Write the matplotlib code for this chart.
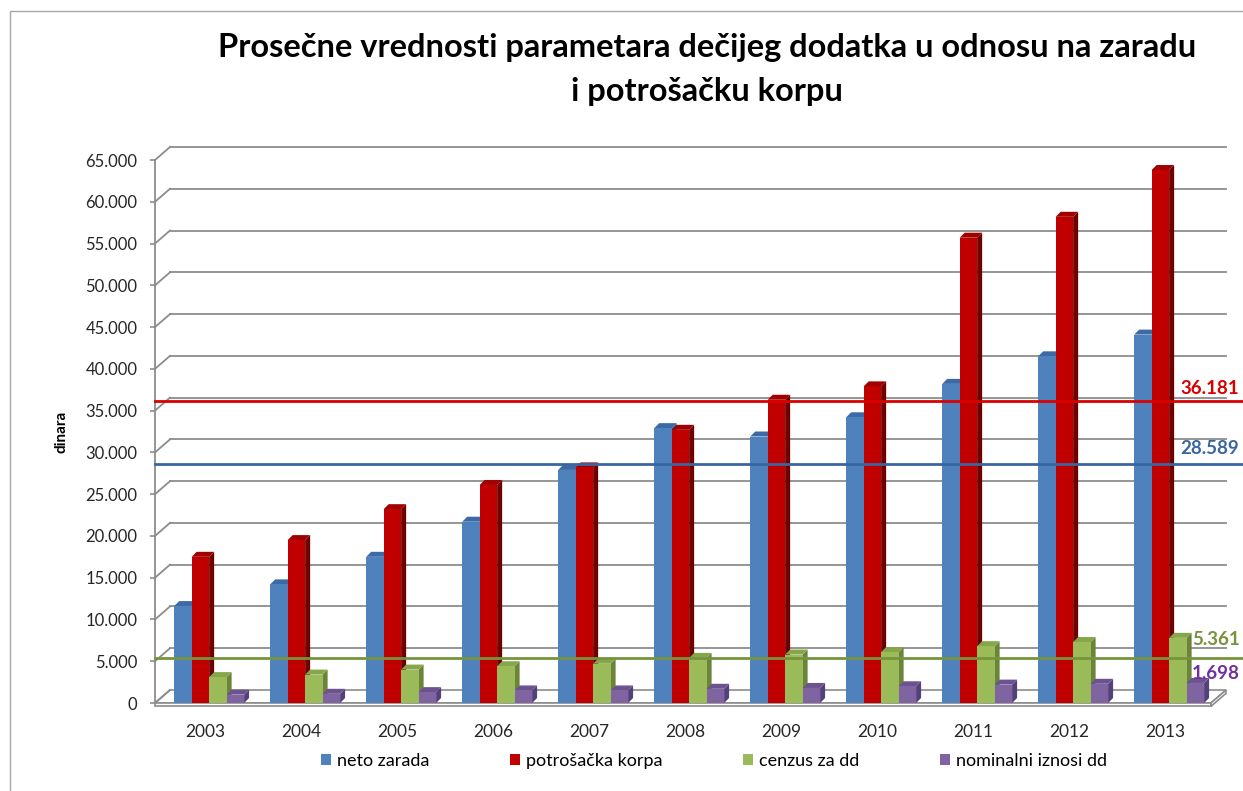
import numpy as np
import matplotlib.pyplot as plt
from matplotlib.patches import Patch, Rectangle

# Data (dinara)
years = ['2003', '2004', '2005', '2006', '2007', '2008', '2009', '2010', '2011', '2012', '2013']
neto_zarada = [11600, 14200, 17500, 21700, 27900, 32900, 31900, 34200, 38200, 41500, 44100]
potrosacka_korpa = [17500, 19500, 23200, 26100, 28200, 32700, 36300, 37900, 55700, 58200, 63800]
cenzus_dd = [3100, 3400, 4000, 4400, 4700, 5400, 5800, 6100, 6800, 7300, 7800]
nominalni_dd = [1000, 1100, 1300, 1500, 1500, 1700, 1800, 2000, 2200, 2300, 2400]

series_names = ['neto zarada', 'potrošačka korpa', 'cenzus za dd', 'nominalni iznosi dd']
averages = [28589, 36181, 5361, 1698]
avg_labels = ['28.589', '36.181', '5.361', '1.698']
avg_has_line = [True, True, True, False]

# front / top / side colours per series
front_cols = ['#4F81BD', '#C00000', '#9BBB59', '#8064A2']
top_cols = ['#3C6AA6', '#A00000', '#86A64A', '#6C5290']
side_cols = ['#2F5283', '#6E0000', '#6A8439', '#54407A']
line_cols = ['#3A66A0', '#D90000', '#77933C', '#7030A0']

plt.rcParams['font.family'] = ['Lato', 'DejaVu Sans']

W, H = 1243, 791
fig = plt.figure(figsize=(W / 100, H / 100), dpi=100)

# axes placed in pixels: front plane x 155..1211, y 703..160
ax = fig.add_axes([155 / W, (H - 703) / H, 1056 / W, 543 / H])
ax.set_xlim(-0.5, 10.5)
ax.set_ylim(0, 65000)

px_x = 1056 / 11          # pixels per category
px_y = 543 / 65000        # pixels per dinar
WX, WY = 15 / px_x, 13 / px_y   # back wall offset
DX, DY = 5 / px_x, 5 / px_y     # bar depth

grid_col = '#8C8C8C'
yticks = np.arange(0, 65001, 5000)

# floor
ax.fill([-0.5, 10.5, 10.5 + WX, -0.5 + WX], [0, 0, WY, WY], color='white',
        ec=grid_col, lw=1.2, zorder=1, clip_on=False)
ax.fill([-0.5, 10.5, 10.5, -0.5], [0, 0, -400, -400], color='white',
        ec=grid_col, lw=1.2, zorder=1, clip_on=False)
ax.fill([10.5, 10.5 + WX, 10.5 + WX, 10.5], [0, WY, WY - 400, -400], color='white',
        ec=grid_col, lw=1.2, zorder=1, clip_on=False)

# back wall gridlines with left wall diagonals
for v in yticks:
    if v > 0:
        ax.plot([-0.5 + WX, 10.5 + WX], [v + WY, v + WY], color=grid_col, lw=1.3,
                zorder=1, clip_on=False)
    ax.plot([-0.5, -0.5 + WX], [v, v + WY], color=grid_col, lw=1.3, zorder=1, clip_on=False)
ax.plot([-0.5, -0.5], [0, 65000], color=grid_col, lw=1.3, zorder=2, clip_on=False)

# 3D-looking columns
x = np.arange(len(years))
width = 0.182
offsets = [-0.30, -0.118, 0.064, 0.246]
all_series = [neto_zarada, potrosacka_korpa, cenzus_dd, nominalni_dd]
for s, vals in enumerate(all_series):
    z = 3 + s
    lefts = x + offsets[s]
    ax.bar(lefts, vals, width, align='edge', color=front_cols[s], zorder=z + 0.5, lw=0)
    for x0, h in zip(lefts, vals):
        ax.fill([x0 + width, x0 + width + DX, x0 + width + DX, x0 + width],
                [0, DY, h + DY, h], color=side_cols[s], lw=0, zorder=z)
        ax.fill([x0, x0 + DX, x0 + width + DX, x0 + width],
                [h, h + DY, h + DY, h], color=top_cols[s], lw=0, zorder=z)

# average lines with labels (kept inside the figure)
label_x = [10.18, 10.18, 10.3, 10.3]
label_dy = [5, 3, 7, 5]
for s in range(4):
    if avg_has_line[s]:
        ax.plot([-0.5, 11.5], [averages[s], averages[s]], color=line_cols[s], lw=2,
                zorder=10, clip_on=False)
    ax.annotate(avg_labels[s], xy=(label_x[s], averages[s]), xytext=(0, label_dy[s]),
                textcoords='offset points', color=line_cols[s], fontsize=13.5,
                fontweight='bold', ha='left', va='bottom', zorder=11,
                annotation_clip=False)

for sp in ax.spines.values():
    sp.set_visible(False)
ax.set_yticks(yticks)
ax.set_yticklabels([f'{v:,}'.replace(',', '.') for v in yticks])
ax.set_xticks(x + 0.02)
ax.set_xticklabels(years)
ax.tick_params(axis='y', length=3.6, width=1.2, color=grid_col, pad=9,
               labelsize=12, labelcolor='#262626')
ax.tick_params(axis='x', length=0, pad=15, labelsize=12.5, labelcolor='#262626')
ax.set_ylabel('dinara', fontsize=11, fontweight='bold', labelpad=12)

fig.text(707 / W, 1 - 47 / H, 'Prosečne vrednosti parametara dečijeg dodatka u odnosu na zaradu',
         ha='center', va='center', fontsize=23.5, fontweight='bold')
fig.text(707 / W, 1 - 92 / H, 'i potrošačku korpu', ha='center', va='center',
         fontsize=23.5, fontweight='bold')

handles = [Patch(facecolor=c, edgecolor='none') for c in front_cols]
fig.legend(handles, series_names, loc='center', bbox_to_anchor=(714 / W, 1 - 761 / H),
           ncol=4, frameon=False, fontsize=13, handlelength=0.55, handleheight=0.55,
           handletextpad=0.3, columnspacing=4.5)

# chart border (top and left visible)
fig.patches.append(Rectangle((10 / W, -0.1), 1.1, 1.1 - 11 / H, transform=fig.transFigure,
                             fill=False, ec='#A6A6A6', lw=1))

fig.savefig('out.png', dpi=100)
